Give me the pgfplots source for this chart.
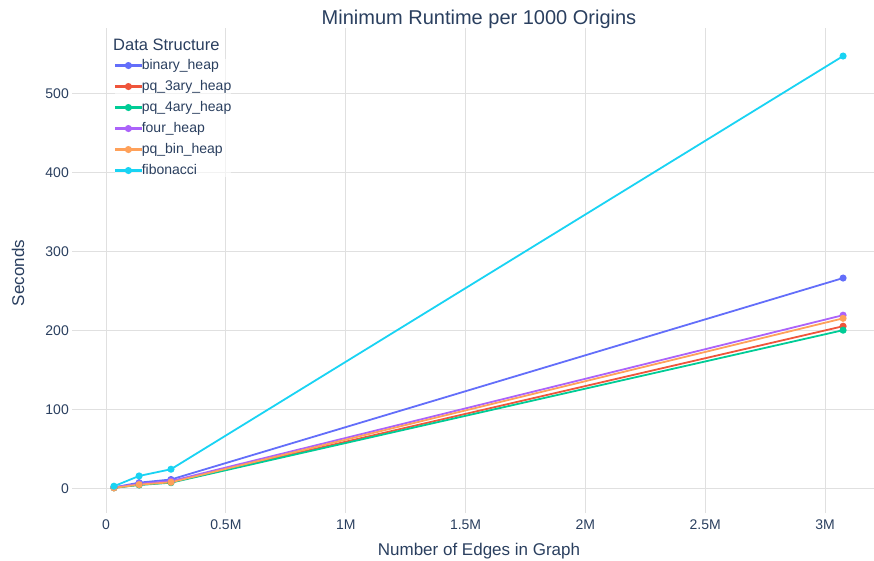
\documentclass[border=0pt]{standalone}
\usepackage{fontspec}
\setmainfont{Liberation Sans}
\usepackage{pgfplots}
\pgfplotsset{compat=1.18}
\definecolor{txt}{HTML}{2A3F5F}
\definecolor{gridc}{HTML}{E0E0E0}
\definecolor{c1}{HTML}{636EFA}
\definecolor{c2}{HTML}{EF553B}
\definecolor{c3}{HTML}{00CC96}
\definecolor{c4}{HTML}{AB63FA}
\definecolor{c5}{HTML}{FFA15A}
\definecolor{c6}{HTML}{19D3F3}
\pgfplotsset{
  mystyle/.style={line width=1.8pt, mark=*, mark size=2.6pt, mark options={solid}},
}
\begin{document}
\begin{tikzpicture}[x=1pt,y=1pt]
\useasboundingbox (0,0) rectangle (874,561);
\begin{axis}[
  at={(72pt,48pt)}, anchor=south west,
  scale only axis, width=802pt, height=485pt,
  xmin=-0.142, xmax=3.204, ymin=-30.4, ymax=583.5,
  axis line style={draw=none},
  major tick length=0pt,
  xtick={0,0.5,1,1.5,2,2.5,3},
  xticklabels={0,0.5M,1M,1.5M,2M,2.5M,3M},
  ytick={0,100,200,300,400,500},
  grid=major, major grid style={gridc, line width=1pt},
  tick label style={font=\fontsize{14}{16}\selectfont, text=txt},
  /pgf/number format/assume math mode=true,
  xticklabel style={anchor=north, inner sep=0pt, yshift=-7pt},
  yticklabel style={anchor=east, inner sep=0pt, xshift=-3pt},
  legend cell align=left,
  legend image code/.code={%
    \fill[#1, mark=none] (0pt,-0.9pt) rectangle (25pt,0.9pt);
    \path[#1] plot coordinates {(12.5pt,0pt)};},
  legend style={draw=none, fill=white, fill opacity=0.6, text opacity=1,
    at={(axis description cs:0.0536,0.936)}, anchor=north west,
    inner sep=0pt, outer sep=0pt, font=\fontsize{14}{16}\selectfont, text=txt,
    row sep=8pt,
    nodes={inner sep=0pt, text height=10pt, text depth=3pt},
    /tikz/every even column/.append style={column sep=3pt}},
]
\addplot[c1, mystyle] coordinates {(0.033,2) (0.138,8) (0.271,12) (3.075,267)};
\addlegendentry{binary\_heap}
\addplot[c2, mystyle] coordinates {(0.033,1.5) (0.138,5.5) (0.271,8.5) (3.075,206)};
\addlegendentry{pq\_3ary\_heap}
\addplot[c3, mystyle] coordinates {(0.033,1.5) (0.138,5) (0.271,8) (3.075,201)};
\addlegendentry{pq\_4ary\_heap}
\addplot[c4, mystyle] coordinates {(0.033,2) (0.138,6.5) (0.271,10) (3.075,220)};
\addlegendentry{four\_heap}
\addplot[c5, mystyle] coordinates {(0.033,1.5) (0.138,5.5) (0.271,8.5) (3.075,216)};
\addlegendentry{pq\_bin\_heap}
\addplot[c6, mystyle] coordinates {(0.033,3.5) (0.138,16.5) (0.271,25) (3.075,548)};
\addlegendentry{fibonacci}
\end{axis}
\node[text=txt, font=\fontsize{20}{24}\selectfont] at (479,542) {Minimum Runtime per 1000 Origins};
\node[text=txt, font=\fontsize{17}{20}\selectfont] at (479,10) {Number of Edges in Graph};
\node[text=txt, font=\fontsize{17}{20}\selectfont, rotate=90] at (18,288) {Seconds};
\node[text=txt, font=\fontsize{16.5}{20}\selectfont, anchor=west, inner sep=0pt] at (113,516) {Data Structure};
\end{tikzpicture}
\end{document}
